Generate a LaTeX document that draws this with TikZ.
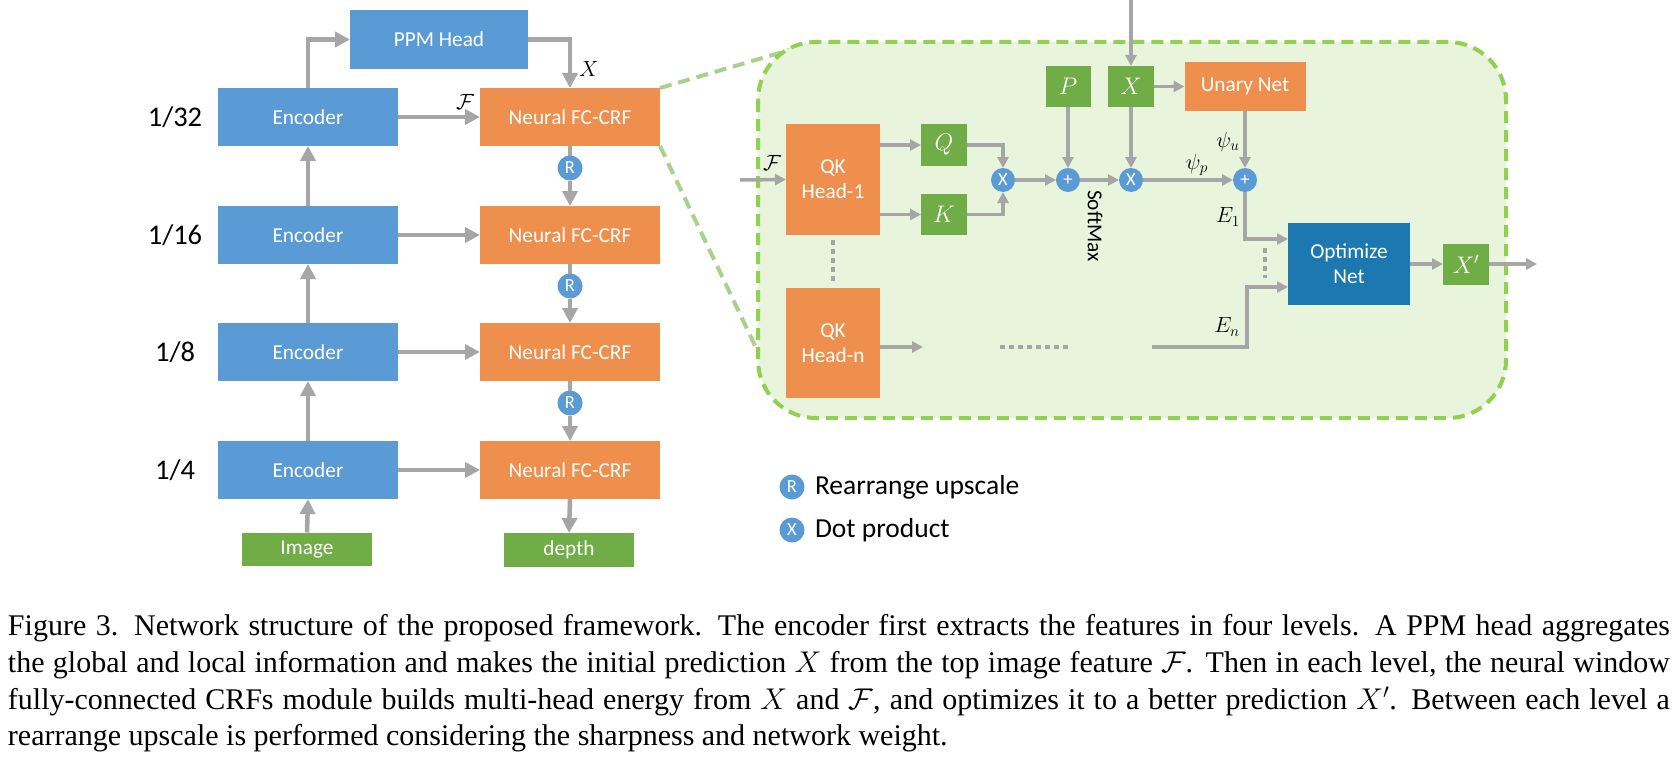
\RequirePackage{fix-cm}
\documentclass[tikz,border=0pt]{standalone}
\usepackage{fontspec}
\setmainfont{Liberation Serif}
\newfontfamily\carl{Carlito}
\usetikzlibrary{arrows.meta,calc}
\definecolor{cblue}{HTML}{5B9BD5}
\definecolor{corange}{HTML}{EE8F4E}
\definecolor{cgreen}{HTML}{70AD47}
\definecolor{cdark}{HTML}{1C78B0}
\definecolor{cgray}{HTML}{A6A6A6}
\definecolor{cfill}{HTML}{E8F4DC}
\definecolor{cdash}{HTML}{92D050}
\definecolor{cdashb}{HTML}{A9D18E}
\begin{document}
\begin{tikzpicture}[x=1pt,y=-1pt,
  every node/.style={inner sep=0pt,outer sep=0pt},
  boxbase/.style={text=white,font=\carl\fontsize{21.3}{25}\selectfont,align=center},
  encbox/.style={boxbase,fill=cblue,minimum width=180pt,minimum height=58pt},
  crfbox/.style={boxbase,fill=corange,minimum width=180pt,minimum height=58pt},
  grnbox/.style={boxbase,fill=cgreen},
  mbox/.style={fill=cgreen,text=white,font=\fontsize{24}{24}\selectfont,minimum width=46pt,minimum height=41pt},
  qkbox/.style={boxbase,fill=corange,minimum width=94pt,minimum height=110pt},
  rcirc/.style={circle,fill=cblue,minimum size=25pt,text=white,font=\carl\fontsize{18.5}{18.5}\selectfont},
  lvl/.style={font=\carl\fontsize{28.5}{30}\selectfont},
  legtext/.style={font=\carl\fontsize{27.5}{30}\selectfont,anchor=west},
  mlbl/.style={font=\fontsize{22}{22}\selectfont},
  garrow/.style={draw=cgray,line width=4.5pt,-{Triangle[length=15pt,width=15pt]}},
  gline/.style={draw=cgray,line width=4.5pt},
  garrowb/.style={draw=cgray,line width=3.5pt,-{Triangle[length=11pt,width=11pt]}},
  glineb/.style={draw=cgray,line width=3.5pt},
  dotln/.style={draw=cgray,line width=3.5pt,dash pattern=on 4.5pt off 4.5pt},
  zoomln/.style={draw=cdashb,line width=4pt,dash pattern=on 12pt off 7pt}
]
\useasboundingbox (0,0) rectangle (1676,760);
\fill[white] (0,0) rectangle (1676,760);

% ---------- left column ----------
\node[lvl] at (175,117) {1/32};
\node[lvl] at (175,235) {1/16};
\node[lvl] at (175,352) {1/8};
\node[lvl] at (175,470) {1/4};

\node[encbox] (e32) at (308,117) {Encoder};
\node[encbox] (e16) at (308,235) {Encoder};
\node[encbox] (e8)  at (308,352) {Encoder};
\node[encbox] (e4)  at (308,470) {Encoder};

\node[crfbox] (c32) at (570,117) {Neural FC-CRF};
\node[crfbox] (c16) at (570,235) {Neural FC-CRF};
\node[crfbox] (c8)  at (570,352) {Neural FC-CRF};
\node[crfbox] (c4)  at (570,470) {Neural FC-CRF};

\node[encbox,minimum width=178pt,minimum height=59pt] (ppm) at (439,39.5) {PPM Head};
\node[grnbox,minimum width=130pt,minimum height=33pt] (img) at (307,549) {Image};
\node[grnbox,minimum width=130pt,minimum height=34pt] (dep) at (569,550) {depth};

\node[rcirc] (r1) at (570,168) {R};
\node[rcirc] (r2) at (570,286) {R};
\node[rcirc] (r3) at (570,403) {R};

\draw[garrow] (e32.north) |- (ppm.west);
\draw[garrow] (ppm.east) -| (c32.north);
\node[mlbl] at (589,69) {$X$};
\draw[garrow] (e32.east) -- (c32.west);
\node[mlbl] at (465,102) {$\mathcal{F}$};
\draw[garrow] (e16.east) -- (c16.west);
\draw[garrow] (e8.east) -- (c8.west);
\draw[garrow] (e4.east) -- (c4.west);
\draw[garrow] (e16.north) -- (e32.south);
\draw[garrow] (e8.north) -- (e16.south);
\draw[garrow] (e4.north) -- (e8.south);
\draw[garrow] (img.north) -- (e4.south);
\draw[gline] (c32.south) -- (r1.north);
\draw[garrow] (r1.south) -- (c16.north);
\draw[gline] (c16.south) -- (r2.north);
\draw[garrow] (r2.south) -- (c8.north);
\draw[gline] (c8.south) -- (r3.north);
\draw[garrow] (r3.south) -- (c4.north);
\draw[garrow] (c4.south) -- (dep.north);

% ---------- zoom lines and panel ----------
\coordinate (zt) at (805,45.5);
\coordinate (zb) at (768,373);
\draw[zoomln] (c32.north east) -- (zt);
\draw[zoomln] (c32.south east) -- (zb);
\draw[draw=cdash,fill=cfill,line width=4pt,dash pattern=on 12pt off 7pt,rounded corners=58pt]
  (758,42) rectangle (1506,418);

% ---------- right panel nodes ----------
\node[qkbox,minimum height=111pt] (qk1) at (833,179.5) {QK\\Head-1};
\node[qkbox] (qkn) at (833,343) {QK\\Head-n};
\node[mbox,minimum height=42pt] (q) at (944,145) {$Q$};
\node[mbox] (k) at (944,214.5) {$K$};
\node[rcirc,minimum size=24pt] (d1) at (1003,180) {X};
\node[rcirc,minimum size=24pt] (p1) at (1068,180) {+};
\node[rcirc,minimum size=24pt] (d2) at (1131,180) {X};
\node[rcirc,minimum size=24pt] (p2) at (1245,180) {+};
\node[mbox,minimum width=45pt] (pb) at (1068,86.5) {$P$};
\node[mbox] (xb) at (1131,86.5) {$X$};
\node[boxbase,fill=corange,minimum width=121pt,minimum height=49pt] (un) at (1245,86.5) {Unary Net};
\node[boxbase,fill=cdark,minimum width=122pt,minimum height=82pt] (opt) at (1349,264) {Optimize\\Net};
\node[mbox] (xp) at (1466,264) {$X'$};

\coordinate (fin) at (740,180);
\coordinate (xtop) at (1131,0);
\coordinate (xout) at (1537,264);
\coordinate (qkno) at (923,347);
\coordinate (dh1) at (1000,347);
\coordinate (dh2) at (1070,347);
\coordinate (ens) at (1152,347);

\draw[garrowb] (fin) -- (qk1.west);
\node[mlbl] at (772,163) {$\mathcal{F}$};
\draw[garrowb] (qk1.east |- q) -- (q.west);
\draw[garrowb] (qk1.east |- k) -- (k.west);
\draw[garrowb] (q.east) -| (d1.north);
\draw[garrowb] (k.east) -| (d1.south);
\draw[garrowb] (d1.east) -- (p1.west);
\draw[garrowb] (pb.south) -- (p1.north);
\draw[garrowb] (p1.east) -- (d2.west);
\node[rotate=-90,font=\carl\fontsize{21.3}{25}\selectfont] at (1095,226) {SoftMax};
\draw[garrowb] (xtop) -- (xb.north);
\draw[garrowb] (xb.south) -- (d2.north);
\draw[garrowb] (xb.east) -- (un.west);
\draw[garrowb] (un.south) -- (p2.north);
\node[mlbl] at (1228,142) {$\psi_u$};
\draw[garrowb] (d2.east) -- (p2.west);
\node[mlbl] at (1197,165) {$\psi_p$};
\draw[garrowb] (p2.south) |- ($(opt.west)+(0,-25)$);
\node[mlbl] at (1228,217) {$E_1$};
\draw[garrowb] (ens) -| ($(opt.west)+(-41,23)$) -- ($(opt.west)+(0,23)$);
\node[mlbl] at (1227,327) {$E_n$};
\draw[dotln] ($(opt.west)+(-23,-16)$) -- ($(opt.west)+(-23,14)$);
\draw[garrowb] (opt.east) -- (xp.west);
\draw[garrowb] (xp.east) -- (xout);
\draw[dotln] ([yshift=-5pt]qk1.south) -- ([yshift=5pt]qkn.north);
\draw[garrowb] (qkn.east |- qkno) -- (qkno);
\draw[dotln] (dh1) -- (dh2);

% ---------- legend ----------
\node[rcirc] (lr) at (792,487) {R};
\node[legtext] at (815,487) {Rearrange upscale};
\node[rcirc] (lx) at (792,530) {X};
\node[legtext] at (815,530) {Dot product};

% ---------- caption ----------
\node[anchor=north west,text width=1662pt,align=justify,font=\fontsize{30}{36.7}\selectfont] (cap) at (8,614.5)
{Figure 3. Network structure of the proposed framework. The encoder first extracts the features in four levels. A PPM head aggregates\linebreak
the global and local information and makes the initial prediction $X$ from the top image feature $\mathcal{F}$. Then in each level, the neural window\linebreak
fully-connected CRFs module builds multi-head energy from $X$ and $\mathcal{F}$, and optimizes it to a better prediction $X'$. Between each level a\linebreak
rearrange upscale is performed considering the sharpness and network weight.};
\end{tikzpicture}
\end{document}
